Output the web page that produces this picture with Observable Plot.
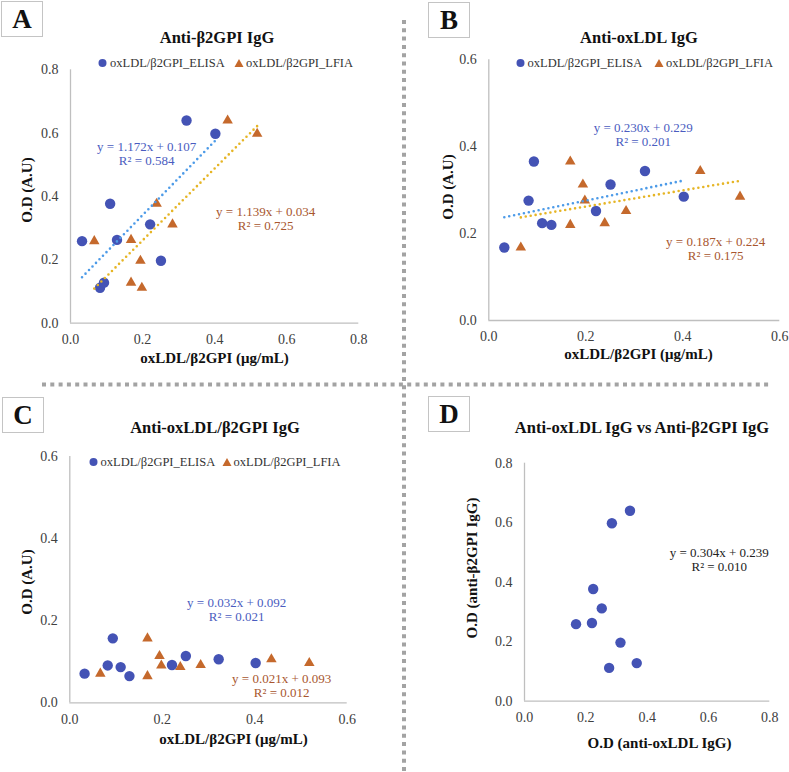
<!DOCTYPE html>
<html>
<head>
<meta charset="utf-8">
<script src="https://cdn.jsdelivr.net/npm/d3@7"></script>
<script src="https://cdn.jsdelivr.net/npm/@observablehq/plot@0.6"></script>
<style>
  html, body { margin: 0; padding: 0; background: #fff; }
  #root { position: relative; width: 789px; height: 772px; background: #fff; font-family: "Liberation Serif", "Times New Roman", serif; overflow: hidden; }
  .abs { position: absolute; white-space: nowrap; }
  .c { transform: translate(-50%, -50%); }
  .rot { transform: translate(-50%, -50%) rotate(-90deg); }
  .title { font-weight: bold; font-size: 16.5px; color: #111; }
  .axl { font-weight: bold; font-size: 15px; color: #111; }
  .eq { font-size: 13px; text-align: center; line-height: 14px; }
  .leg { font-size: 12.5px; color: #333; display: flex; align-items: center; }
  .box { border: 1px solid #c4c4c4; font-weight: bold; font-size: 27px; display: flex; align-items: center; justify-content: center; color: #111; box-sizing: border-box; }
  svg.plot { position: absolute; font-family: "Liberation Serif", "Times New Roman", serif; }
  svg.plot text { font-family: "Liberation Serif", "Times New Roman", serif; }
</style>
</head>
<body>
<div id="root"></div>
<script>
// ---- Data ----
// Nine samples; concentration of oxLDL/β2GPI measured by ELISA and by LFIA
const concELISA = [0.032, 0.082, 0.093, 0.110, 0.129, 0.221, 0.251, 0.322, 0.402];
const concLFIA  = [0.066, 0.198, 0.168, 0.239, 0.168, 0.283, 0.194, 0.436, 0.518];
// Antibody optical densities for the same nine samples
const odAntiB2GPI   = [0.259, 0.112, 0.128, 0.377, 0.263, 0.312, 0.197, 0.640, 0.598];
const odAntiOxLDL   = [0.168, 0.276, 0.366, 0.224, 0.220, 0.252, 0.313, 0.344, 0.285];
const odAntiComplex = [0.071, 0.091, 0.157, 0.087, 0.065, 0.092, 0.114, 0.106, 0.097];

const seriesNames = ["oxLDL/β2GPI_ELISA", "oxLDL/β2GPI_LFIA"];
const panelLabels = ["A", "B", "C", "D"];
const panelTitles = ["Anti-β2GPI IgG", "Anti-oxLDL IgG", "Anti-oxLDL/β2GPI IgG", "Anti-oxLDL IgG vs Anti-β2GPI IgG"];
const xLabels = ["oxLDL/β2GPI (μg/mL)", "oxLDL/β2GPI (μg/mL)", "oxLDL/β2GPI (μg/mL)", "O.D (anti-oxLDL IgG)"];
const yLabels = ["O.D (A.U)", "O.D (A.U)", "O.D (A.U)", "O.D (anti-β2GPI IgG)"];
const eqELISA = [["y = 1.172x + 0.107", "R² = 0.584"], ["y = 0.230x + 0.229", "R² = 0.201"], ["y = 0.032x + 0.092", "R² = 0.021"]];
const eqLFIA  = [["y = 1.139x + 0.034", "R² = 0.725"], ["y = 0.187x + 0.224", "R² = 0.175"], ["y = 0.021x + 0.093", "R² = 0.012"]];
const eqD = ["y = 0.304x + 0.239", "R² = 0.010"];
const ticks08 = [0, 0.2, 0.4, 0.6, 0.8];
const ticks06 = [0, 0.2, 0.4, 0.6];

// ---- Styles ----
const C_CIRCLE = "#4453b5", C_TRI = "#c5692c";
const C_TREND_E = "#4d9be8", C_TREND_L = "#e6b525";
const C_EQ_E = "#4a5cc0", C_EQ_L = "#a8562e";
const AXIS_GREY = "#bfbfbf";
const SERIF = "'Liberation Serif', 'Times New Roman', serif";

const root = document.getElementById("root");

function addDiv(cls, x, y, html, style = {}) {
  const d = document.createElement("div");
  d.className = "abs " + cls;
  d.style.left = x + "px";
  d.style.top = y + "px";
  Object.assign(d.style, style);
  d.innerHTML = html;
  root.appendChild(d);
  return d;
}

function rows(xs, ys) { return xs.map((x, i) => ({x, y: ys[i]})); }

function makePanel({left, top, width, height, mL, mR, mT, mB, dom, ticks, series, trends}) {
  const axisText = {fontFamily: SERIF, fontSize: 14, fill: "#404040", tickSize: 0, tickFormat: d3.format(".1f"), label: null, ticks};
  const marks = [
    Plot.ruleY([0], {stroke: AXIS_GREY, strokeWidth: 1.3}),
    Plot.ruleX([0], {stroke: AXIS_GREY, strokeWidth: 1.3}),
    Plot.axisX({...axisText, tickPadding: 11}),
    Plot.axisY({...axisText, tickPadding: 12})
  ];
  for (const s of series) {
    marks.push(Plot.dot(s.data, {x: "x", y: "y", symbol: s.symbol, r: s.r, fill: s.fill, stroke: "none"}));
  }
  for (const t of trends) {
    marks.push(Plot.linearRegressionY(t.data, {x: "x", y: "y", ci: 0, stroke: t.stroke, strokeWidth: 2.6,
      strokeDasharray: "0 5", strokeLinecap: "round"}));
  }
  const svg = Plot.plot({
    width, height,
    marginLeft: mL, marginRight: mR, marginTop: mT, marginBottom: mB,
    x: {domain: dom, axis: null},
    y: {domain: dom, axis: null},
    style: {fontFamily: SERIF, fontSize: "14px", color: "#404040", background: "transparent", overflow: "visible"},
    marks
  });
  svg.classList.add("plot");
  svg.style.left = left + "px";
  svg.style.top = top + "px";
  root.appendChild(svg);
}

function legend(x, y, xTri, yTri) {
  addDiv("leg", x, y, `<svg width="9" height="9" style="margin-right:3px"><circle cx="4.5" cy="4.5" r="4" fill="${C_CIRCLE}"/></svg>${seriesNames[0]}`, {transform: "translateY(-50%)"});
  addDiv("leg", xTri, yTri, `<svg width="10" height="9" style="margin-right:2px"><path d="M5,0.5 L9.5,8.5 L0.5,8.5 Z" fill="${C_TRI}"/></svg>${seriesNames[1]}`, {transform: "translateY(-50%)"});
}

function eq(x, y, lines, color) {
  addDiv("eq c", x, y, lines.join("<br>"), {color});
}

// ---- Panel A ----
const aE = rows(concELISA, odAntiB2GPI), aL = rows(concLFIA, odAntiB2GPI);
makePanel({left: 0, top: 0, width: 400, height: 380, mL: 70, mR: 41.7, mT: 69.3, mB: 57.3, dom: [0, 0.8], ticks: ticks08,
  series: [{data: aE, symbol: "circle", r: 5.2, fill: C_CIRCLE}, {data: aL, symbol: "triangle", r: 3.9, fill: C_TRI}],
  trends: [{data: aE, stroke: C_TREND_E}, {data: aL, stroke: C_TREND_L}]});

// ---- Panel B ----
const bE = rows(concELISA, odAntiOxLDL), bL = rows(concLFIA, odAntiOxLDL);
makePanel({left: 404, top: 0, width: 385, height: 380, mL: 84.3, mR: 9.7, mT: 59.3, mB: 60, dom: [0, 0.6], ticks: ticks06,
  series: [{data: bE, symbol: "circle", r: 5.2, fill: C_CIRCLE}, {data: bL, symbol: "triangle", r: 3.9, fill: C_TRI}],
  trends: [{data: bE, stroke: C_TREND_E}, {data: bL, stroke: C_TREND_L}]});

// ---- Panel C ----
const cE = rows(concELISA, odAntiComplex), cL = rows(concLFIA, odAntiComplex);
makePanel({left: 0, top: 390, width: 400, height: 382, mL: 69.3, mR: 53.3, mT: 66, mB: 69.7, dom: [0, 0.6], ticks: ticks06,
  series: [{data: cE, symbol: "circle", r: 5.2, fill: C_CIRCLE}, {data: cL, symbol: "triangle", r: 3.9, fill: C_TRI}],
  trends: []});

// ---- Panel D ----
const dE = rows(odAntiOxLDL, odAntiB2GPI);
makePanel({left: 404, top: 390, width: 385, height: 382, mL: 120, mR: 19.7, mT: 72.7, mB: 71.3, dom: [0, 0.8], ticks: ticks08,
  series: [{data: dE, symbol: "circle", r: 5.2, fill: C_CIRCLE}],
  trends: []});

// ---- Separators ----
const sep = document.createElementNS("http://www.w3.org/2000/svg", "svg");
sep.setAttribute("width", 789); sep.setAttribute("height", 772);
sep.style.position = "absolute"; sep.style.left = "0px"; sep.style.top = "0px"; sep.style.pointerEvents = "none";
sep.innerHTML = `<line x1="404" y1="20" x2="404" y2="772" stroke="#a3a3a3" stroke-width="4" stroke-dasharray="4 4.3"/>
<line x1="42" y1="384.5" x2="772" y2="384.5" stroke="#a3a3a3" stroke-width="4" stroke-dasharray="4 4.3"/>`;
root.appendChild(sep);

// ---- Panel label boxes ----
const boxes = [[1, 1], [428, 2], [2, 397], [428, 396]];
boxes.forEach(([x, y], i) => addDiv("box", x, y, panelLabels[i], {width: "42px", height: "36px"}));

// ---- Titles ----
const titlePos = [[217, 38], [639, 38], [215, 428], [642, 428]];
titlePos.forEach(([x, y], i) => addDiv("title c", x, y, panelTitles[i]));

// ---- Axis labels ----
const xLabPos = [[214.5, 357.5], [638.5, 354], [233.5, 739], [659.5, 742.5]];
xLabPos.forEach(([x, y], i) => addDiv("axl c", x, y, xLabels[i]));
const yLabPos = [[26.7, 190], [448.3, 186.7], [26.7, 581.7], [471.7, 568]];
yLabPos.forEach(([x, y], i) => addDiv("axl rot", x, y, yLabels[i]));

// ---- Legends ----
legend(98, 63.3, 234, 63.3);
legend(515.5, 63.3, 654, 63.3);
legend(88.5, 461.7, 221.5, 461.7);

// ---- Equations ----
eq(146.7, 153.7, eqELISA[0], C_EQ_E);
eq(265.7, 218.7, eqLFIA[0], C_EQ_L);
eq(643.3, 135.3, eqELISA[1], C_EQ_E);
eq(715.7, 249.3, eqLFIA[1], C_EQ_L);
eq(236.7, 610.3, eqELISA[2], C_EQ_E);
eq(281.7, 686.3, eqLFIA[2], C_EQ_L);
eq(719.3, 559.7, eqD, "#222");
</script>
</body>
</html>
